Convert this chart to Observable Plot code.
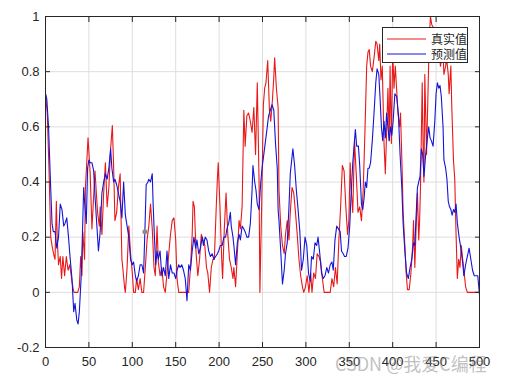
<!DOCTYPE html>
<html><head><meta charset="utf-8">
<script src="https://cdn.jsdelivr.net/npm/d3@7"></script>
<script src="https://cdn.jsdelivr.net/npm/@observablehq/plot@0.6"></script>
<style>
body{margin:0;background:#fff;}
#wrap{position:relative;width:508px;height:379px;font-family:"Liberation Sans",Arial,sans-serif;}
#legend{position:absolute;left:382px;top:27px;width:84px;height:34px;border:1px solid #262626;background:#fff;}
#legend .row{position:absolute;left:0;height:14px;display:flex;align-items:center;}
#legend .row span{font-family:"Noto Sans CJK SC",sans-serif;font-size:12px;color:#262626;margin-left:4px;line-height:14px;}
#wm{position:absolute;left:335px;top:351px;font-family:"Noto Sans CJK SC",sans-serif;font-size:18px;line-height:24px;color:rgba(130,130,130,0.5);white-space:nowrap;}
</style></head><body><div id="wrap"></div>
<script>
const seriesNames = ["真实值", "预测值"];
const seriesColors = ["#e81818", "#1414d8"];
const xTicks = [0, 50, 100, 150, 200, 250, 300, 350, 400, 450, 500];
const yTicks = [-0.2, 0, 0.2, 0.4, 0.6, 0.8, 1];

const redX = [0,2,4,6,8,10,11,12.5,13.5,15,17,18.5,20,22,24,26,28,30,32,33,37,39,40.5,42,43,45,46,48,49,51.5,53.5,56,57,60,62,63,65,67,69,71,73,75,77,78.5,80,82,84,86,88,89,91,92,94,96,98,100,101.5,103.5,105,107,109,111,113,115,117,119,121,123,125,126.5,128.5,130,132,134,136,138,140,142,144,146,148,150,151.5,153.5,165,167,169,170,171.5,173.5,175.5,177.5,179.5,181.5,183.5,185.5,187,189,191,193,194.5,196.5,198,199,201,203,204,206,208,210,212,214,216,217,219,221,223,224.5,226.5,228.5,230,232,234,236,238,240,242,244,246,247,249,251,252.5,254,256,258,259.5,261.5,263,264,266,268,269,271,273,275,276.5,278.5,280.5,282,284,286,288,290,292,294,296,297.5,299.5,301.5,303.5,305.5,307,309,311,313,315,317,319,321,328,330,332,334,336,338,340,342,344,346,348,349.5,351,352,354,356,358,360,362,364,366,368,370,371.5,373,374.5,376.5,378.5,380.5,382,384,385,386.5,388,390,391.5,393,394.5,396,397,398.5,400,401.5,403,405,406,408,409,411,412,414,415.5,417,419,421,423,424,425.5,427,428.5,430,431,432,434,435,436,437,439,440.5,442,443.5,445,447,448.5,450,451.5,453,455,456,458,459,461,462,464,465,467,468,470,471.5,473,474.5,476,477.5,479,481,482,484,486,500];
const redY = [0.72,0.65,0.45,0.2,0.16,0.13,0.12,0.33,0.2,0.1,0.13,0.05,0.13,0.06,0.13,0.08,0.1,0.05,0.01,0,0,0.02,0.13,0.06,0.22,0.12,0.38,0.5,0.56,0.43,0.23,0.38,0.44,0.29,0.24,0.31,0.21,0.36,0.47,0.31,0.38,0.52,0.605,0.455,0.26,0.29,0.38,0.43,0.12,0.09,0.02,0,0.09,0.24,0.14,0.07,0,0,0.05,0.01,0.05,0,0,0.09,0.19,0.24,0.32,0.23,0.09,0.06,0.24,0.11,0.06,0.09,0.02,0,0.07,0.14,0.21,0.26,0.27,0.19,0.05,0,0,0.09,0.21,0.33,0.31,0.14,0.06,0.12,0.21,0.19,0.17,0.09,0.07,0,0.09,0.12,0.12,0.29,0.41,0.47,0.31,0.12,0.05,0.23,0.36,0.21,0.12,0.09,0.05,0.09,0.02,0.14,0.26,0.23,0.31,0.66,0.53,0.64,0.65,0.62,0.58,0.67,0.5,0.76,0.41,0,0.31,0.68,0.74,0.76,0.84,0.66,0.62,0.7,0.78,0.85,0.74,0.67,0.37,0.24,0.17,0.14,0.21,0.26,0.19,0.29,0.38,0.36,0.29,0.21,0.12,0.06,0.02,0,0.02,0.06,0,0.07,0,0.07,0.05,0.14,0.13,0.11,0.05,0,0,0.05,0.02,0.09,0.03,0.19,0.31,0.46,0.44,0.31,0.21,0.26,0.47,0.38,0.29,0.55,0.43,0.29,0.31,0.26,0.37,0.58,0.82,0.87,0.88,0.82,0.8,0.85,0.91,0.9,0.84,0.9,0.77,0.82,0.54,0.43,0.58,0.74,0.55,0.82,0.54,0.88,0.74,0.82,0.71,0.65,0.6,0.65,0.43,0.29,0.17,0.07,0.01,0.01,0.07,0.17,0.26,0.09,0.24,0.36,0.19,0.26,0.38,0.76,0.53,0.4,0.79,0.5,0.7,0.91,1.0,0.97,0.96,0.85,0.88,0.94,0.89,0.82,0.84,0.87,0.79,0.82,0.85,0.79,0.72,0.82,0.68,0.48,0.41,0.21,0.05,0.12,0.09,0.17,0.11,0.08,0.02,0,0];

const blueX = [0,1.5,3.5,5.5,7.5,9,11,13,15,17,19,21,22.5,24.5,26.5,28.5,30.5,32.5,34,36,37.5,39,41,42,44,45,47,48.5,50,51.5,53.5,55.5,57,59,61,63,65,67,69,71,73,75,76.5,78.5,80,82,84,86,88,90,92,94,96,98,100,101.5,103.5,105,107,109,111,113,114.5,116,118,119,121,123,124,125.5,127,128.5,130,132,134,136,138,140,142,144,146,148,150,151.5,153.5,155,157,159,161,163,165,167,169,171,173,174.5,176.5,178.5,180.5,182,184,186,188,190,192,194,196,198,199.5,201.5,203.5,205.5,207.5,209,211,213,214,216,217,219,221,223,224.5,226.5,228.5,230,232,234,236,238,239,241,242.5,244,246,248,249.5,251.5,253.5,255.5,257,259,261,263,265,267,268,269,271,273,275,276.5,278.5,280.5,282,284,285,287,289,291,293,295,297,299,301,303,305,306.5,308.5,310.5,312.5,314,316,318,320,322,324,326,328,330,331.5,333.5,335.5,337.5,339.5,341,343,344.5,346.5,348.5,350.5,352,354,356,357,358.5,360.5,362,364,365.5,367,368.5,370,371.5,373,374.5,376.5,378.5,380.5,382,384,385.5,387,388.5,390,391.5,393,394.5,396,397.5,399,400.5,402.5,404.5,406.5,408.5,410.5,412,414,416,418,420,422,424,425.5,427,428.5,430,431.5,433,434.5,436,438,440,441.5,443,444.5,446.5,448.5,450,451.5,453,454.5,456,458,459,461,462.5,464,465.5,467,468.5,470,471.5,473,474.5,476.5,478.5,480.5,482,484,486,488,490,492,494,496,498,500];
const blueY = [0.72,0.7,0.6,0.42,0.25,0.22,0.22,0.16,0.2,0.32,0.3,0.24,0.25,0.27,0.2,0.12,0.05,-0.07,-0.04,-0.1,-0.115,-0.07,0.05,0.15,0.38,0.33,0.25,0.45,0.48,0.47,0.47,0.44,0.35,0.25,0.15,0.22,0.36,0.4,0.43,0.41,0.45,0.52,0.45,0.4,0.41,0.39,0.36,0.33,0.27,0.4,0.28,0.24,0.2,0.12,0.1,0.11,0.06,0.04,0.06,0.1,0.1,0.07,0.22,0.39,0.4,0.41,0.4,0.43,0.32,0.2,0.1,0.15,0.12,0.15,0.06,0.09,0.06,0.15,0.05,0.1,0.07,0.07,0.05,0.08,0.1,0.09,0.1,0.08,0.05,-0.03,0.1,0.08,0.15,0.2,0.16,0.19,0.14,0.16,0.2,0.17,0.2,0.19,0.15,0.13,0.14,0.12,0.13,0.14,0.15,0.17,0.17,0.2,0.2,0.23,0.25,0.29,0.24,0.2,0.17,0.1,0.18,0.21,0.19,0.24,0.23,0.22,0.2,0.2,0.25,0.37,0.46,0.4,0.37,0.32,0.3,0.4,0.45,0.5,0.55,0.6,0.64,0.66,0.68,0.66,0.54,0.45,0.3,0.26,0.15,0.03,0.08,0.14,0.18,0.31,0.43,0.49,0.52,0.46,0.37,0.3,0.22,0.08,0.12,0.2,0.17,0.07,0.04,0.13,0.12,0.18,0.17,0.2,0.14,0.07,0.05,0.06,0.09,0.07,0.1,0.11,0.08,0.19,0.24,0.23,0.22,0.15,0.14,0.13,0.13,0.16,0.24,0.35,0.47,0.55,0.59,0.53,0.53,0.46,0.32,0.3,0.34,0.4,0.38,0.45,0.45,0.47,0.55,0.65,0.76,0.81,0.79,0.7,0.6,0.55,0.62,0.56,0.65,0.6,0.55,0.6,0.57,0.62,0.72,0.71,0.65,0.5,0.38,0.25,0.15,0.07,0.05,0.09,0.12,0.18,0.17,0.28,0.38,0.4,0.42,0.52,0.5,0.42,0.5,0.56,0.6,0.56,0.55,0.53,0.62,0.72,0.76,0.74,0.75,0.71,0.6,0.48,0.45,0.41,0.33,0.31,0.3,0.28,0.3,0.29,0.32,0.25,0.2,0.16,0.11,0.06,0.1,0.13,0.16,0.12,0.08,0.06,0.06,0.06,-0.01];

const markerX = [114.5];
const markerY = [0.22];

const redData = redX.map((x, i) => ({x, y: redY[i]}));
const blueData = blueX.map((x, i) => ({x, y: blueY[i]}));
const markerData = markerX.map((x, i) => ({x, y: markerY[i]}));

const fmtY = d => d === 0 ? "0" : String(+d.toFixed(1));
const axisColor = "#262626";
const gridColor = "#dedede";

const chart = Plot.plot({
  width: 508,
  height: 379,
  marginLeft: 45,
  marginRight: 29,
  marginTop: 16,
  marginBottom: 32,
  style: {background: "#fff", fontFamily: "'Liberation Sans', Arial, sans-serif"},
  x: {domain: [0, 500], label: null},
  y: {domain: [-0.2, 1], label: null},
  marks: [
    Plot.gridX(xTicks, {stroke: gridColor, strokeOpacity: 1}),
    Plot.gridY(yTicks, {stroke: gridColor, strokeOpacity: 1}),
    Plot.line(redData, {x: "x", y: "y", stroke: seriesColors[0], strokeWidth: 1.1}),
    Plot.line(blueData, {x: "x", y: "y", stroke: seriesColors[1], strokeWidth: 1.1}),
    Plot.dot(markerData, {x: "x", y: "y", r: 2.5, fill: "#8a8a8a", stroke: "none"}),
    Plot.frame({stroke: axisColor, strokeWidth: 1}),
    Plot.axisX(xTicks, {anchor: "bottom", tickSize: -5, tickPadding: 14, fontSize: 13, fill: axisColor, stroke: axisColor, label: null}),
    Plot.axisX(xTicks, {anchor: "top", tickSize: -5, text: null, stroke: axisColor, label: null}),
    Plot.axisY(yTicks, {anchor: "left", tickSize: -5, tickPadding: 11, fontSize: 13, fill: axisColor, stroke: axisColor, tickFormat: fmtY, label: null}),
    Plot.axisY(yTicks, {anchor: "right", tickSize: -5, text: null, stroke: axisColor, label: null})
  ]
});

const wrap = document.getElementById("wrap");
wrap.appendChild(chart);

const legend = document.createElement("div");
legend.id = "legend";
seriesNames.forEach((name, i) => {
  const row = document.createElement("div");
  row.className = "row";
  row.style.top = (4 + i * 15) + "px";
  row.innerHTML = `<svg width="44" height="14" style="display:block"><line x1="4" x2="43" y1="7" y2="7" stroke="${seriesColors[i]}" stroke-width="1"/></svg><span>${name}</span>`;
  legend.appendChild(row);
});
wrap.appendChild(legend);

const wm = document.createElement("div");
wm.id = "wm";
wm.textContent = "CSDN @我爱C编程";
wrap.appendChild(wm);
</script></body></html>
